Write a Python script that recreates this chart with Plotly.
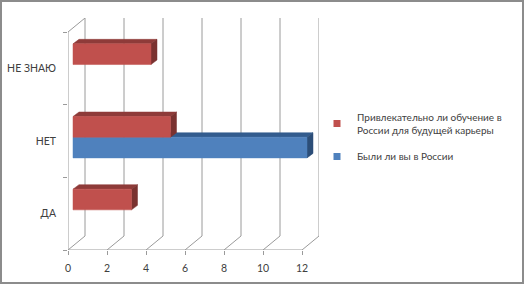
import plotly.graph_objects as go

categories = ["ДА", "НЕТ", "НЕ ЗНАЮ"]
series_names = ["Привлекательно ли обучение в<br>России для будущей карьеры", "Были ли вы в России"]
attractive = [3, 5, 4]
visited = [0, 12, 0]
x_ticks = [0, 2, 4, 6, 8, 10, 12]

# geometry of the pseudo-3D look (data units)
W, H = 524, 284
L, R, T, B = 68, 205, 18, 34
XMAX = 12
PXU = 19.5                        # px per x unit on front plane
plot_w = W - L - R
plot_h = H - T - B
DX = plot_w / PXU - XMAX           # depth shift along x
PYU = 218 / 3                      # px per category on front plane
DY = plot_h / PYU - 3              # depth shift along y
OX, OY = 5 / PXU, 3.8 / PYU        # bar front plane offset
BDX, BDY = 6 / PXU, 4.5 / PYU      # bar depth
BH = 20.7 / PYU                    # bar thickness

GRID = "#9a9a9a"
TXT = "#404040"
FONT = "Lato"

fig = go.Figure()

def line(xs, ys, color=GRID, width=1):
    fig.add_trace(go.Scatter(x=xs, y=ys, mode="lines", line=dict(color=color, width=width),
                             hoverinfo="skip", showlegend=False))

# walls / grid
for v in x_ticks:
    line([v + DX, v + DX], [-0.5 + DY, 2.5 + DY])
    line([v, v + DX], [-0.5, -0.5 + DY])
line([0, 0], [-0.5, 2.5])
line([0, DX], [2.5, 2.5 + DY])
line([0, XMAX], [-0.5, -0.5])

def poly(xs, ys, color):
    fig.add_trace(go.Scatter(x=xs + [xs[0]], y=ys + [ys[0]], mode="lines", fill="toself",
                             fillcolor=color, line=dict(color=color, width=0.5),
                             hoverinfo="skip", showlegend=False))

def bar3d(v, y0, front, top, side):
    if v <= 0:
        return
    x0, x1 = OX, OX + v
    y1 = y0 + BH
    poly([x0, x0 + BDX, x1 + BDX, x1], [y1, y1 + BDY, y1 + BDY, y1], top)
    poly([x1, x1, x1 + BDX, x1 + BDX], [y0, y1, y1 + BDY, y0 + BDY], side)
    poly([x0, x1, x1, x0], [y0, y0, y1, y1], front)

colors = {
    "red": ("#C0504D", "#8E3B39", "#7A3230"),
    "blue": ("#4F81BD", "#335C8E", "#2C4E78"),
}
for i, c in enumerate(categories):
    yc = i + OY
    bar3d(visited[i], yc - BH, *colors["blue"])
    bar3d(attractive[i], yc, *colors["red"])

# legend entries
fig.add_trace(go.Scatter(x=[None], y=[None], mode="markers", name=series_names[0], legendgroup="a",
                         marker=dict(symbol="square", size=7, color="#C0504D")))
fig.add_trace(go.Scatter(x=[None], y=[None], mode="markers", name=series_names[1], legendgroup="b",
                         marker=dict(symbol="square", size=7, color="#4F81BD")))

fig.update_layout(
    width=W, height=H,
    margin=dict(l=L, r=R, t=T, b=B, autoexpand=False),
    paper_bgcolor="white", plot_bgcolor="white",
    font=dict(family=FONT, size=10.5, color=TXT),
    showlegend=True,
    legend=dict(x=(317 - L) / plot_w, y=(T + plot_h - 104) / plot_h, xanchor="left", yanchor="top",
                font=dict(family=FONT, size=10, color=TXT), bgcolor="rgba(0,0,0,0)", itemwidth=30,
                tracegroupgap=9),
    xaxis=dict(range=[0, XMAX + DX], tickvals=x_ticks, ticktext=[str(v) for v in x_ticks],
               tickfont=dict(family=FONT, size=10.5, color=TXT),
               showgrid=False, zeroline=False, showline=False, ticks="outside", ticklen=4,
               tickcolor=GRID, ticklabelstandoff=4, fixedrange=True, automargin=False),
    yaxis=dict(range=[-0.5, 2.5 + DY], tickvals=[0, 1, 2], ticktext=categories,
               tickfont=dict(family=FONT, size=10.5, color=TXT),
               showgrid=False, zeroline=False, showline=False, ticks="", ticklabelstandoff=11,
               minor=dict(tickvals=[-0.5, 0.5, 1.5, 2.5], ticks="outside", ticklen=4, tickcolor=GRID),
               fixedrange=True, automargin=False),
    shapes=[dict(type="rect", xref="paper", yref="paper",
                 x0=(1 - L) / plot_w, x1=(W - 1 - L) / plot_w,
                 y0=(T + plot_h - (H - 1)) / plot_h, y1=(T + plot_h - 1) / plot_h,
                 line=dict(color="#8c8c8c", width=2))],
)

fig.write_html("out.html", config={"displayModeBar": False},
               post_script="document.body.style.margin='0';document.body.style.overflow='hidden';")
